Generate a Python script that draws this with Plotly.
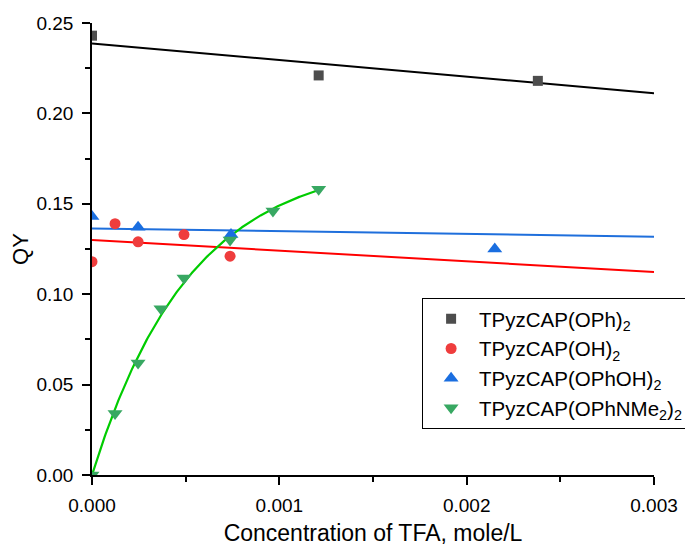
import numpy as np
import plotly.graph_objects as go

# ---- data ----
names = ["TPyzCAP(OPh)<sub>2</sub>", "TPyzCAP(OH)<sub>2</sub>",
         "TPyzCAP(OPhOH)<sub>2</sub>", "TPyzCAP(OPhNMe<sub>2</sub>)<sub>2</sub>"]

oph_x = [0.0, 0.00121, 0.00238]
oph_y = [0.243, 0.221, 0.218]

oh_x = [0.0, 0.000123, 0.000246, 0.000491, 0.000737]
oh_y = [0.118, 0.139, 0.129, 0.133, 0.121]

ophoh_x = [0.0, 0.000246, 0.000742, 0.00215]
ophoh_y = [0.143, 0.137, 0.133, 0.125]

nme_x = [0.0, 0.000123, 0.000246, 0.000368, 0.000491, 0.000737, 0.000966, 0.00121]
nme_y = [0.0, 0.034, 0.062, 0.092, 0.109, 0.130, 0.146, 0.158]

# linear fit parameters (intercept, slope) as drawn
oph_fit = [0.2387, -9.2]
oh_fit = [0.1300, -5.9]
ophoh_fit = [0.1364, -1.53]
# exponential fit y = A*(1-exp(-x/t))
nme_fit = [0.175, 0.000524]

x_range = [0.0, 0.003]
y_range = [0.0, 0.25]

fig = go.Figure()

lin_x = np.array(x_range)
for fit, col in [(oph_fit, "#000000"), (oh_fit, "#ff0000"), (ophoh_fit, "#1f6fdc")]:
    fig.add_trace(go.Scatter(x=lin_x, y=fit[0] + fit[1] * lin_x, mode="lines",
                             line=dict(color=col, width=2), showlegend=False,
                             hoverinfo="skip"))
cx = np.linspace(0, max(nme_x), 200)
fig.add_trace(go.Scatter(x=cx, y=nme_fit[0] * (1 - np.exp(-cx / nme_fit[1])), mode="lines",
                         line=dict(color="#00cc00", width=2.2), showlegend=False,
                         hoverinfo="skip"))

fig.add_trace(go.Scatter(x=oph_x, y=oph_y, mode="markers", name=names[0],
                         marker=dict(symbol="square", size=10, color="#4d4d4d")))
fig.add_trace(go.Scatter(x=oh_x, y=oh_y, mode="markers", name=names[1],
                         marker=dict(symbol="circle", size=11, color="#ef3d3d")))
fig.add_trace(go.Scatter(x=ophoh_x, y=ophoh_y, mode="markers", name=names[2],
                         marker=dict(symbol="triangle-up", size=13, color="#1a6ee0")))
fig.add_trace(go.Scatter(x=nme_x, y=nme_y, mode="markers", name=names[3],
                         marker=dict(symbol="triangle-down", size=13, color="#38a862")))

font = "Liberation Sans, Arial, sans-serif"
fig.update_layout(
    width=693, height=547,
    margin=dict(l=84, r=47, t=15, b=80),
    plot_bgcolor="white", paper_bgcolor="white",
    font=dict(family=font, color="black", size=19),
    legend=dict(x=0.587, y=0.392, xanchor="left", yanchor="top",
                bordercolor="black", borderwidth=1.2, bgcolor="white",
                font=dict(family=font, size=20.5, color="black"),
                tracegroupgap=0, itemwidth=46),
    xaxis=dict(range=x_range, showline=True, linecolor="black", linewidth=1.6,
               ticks="outside", ticklen=8, tickwidth=1.5, tickcolor="black",
               dtick=0.001, tickformat=".3f", showgrid=False, zeroline=False,
               automargin=False, ticklabelstandoff=4,
               minor=dict(dtick=0.0005, ticks="outside", ticklen=5, tickcolor="black",
                          tickwidth=1.5, showgrid=False),
               title=dict(text="Concentration of TFA, mole/L", font=dict(size=23), standoff=10),
               tickfont=dict(size=19)),
    yaxis=dict(range=y_range, showline=True, linecolor="black", linewidth=1.6,
               ticks="outside", ticklen=8, tickwidth=1.5, tickcolor="black",
               dtick=0.05, tickformat=".2f", showgrid=False, zeroline=False,
               automargin=False, ticklabelstandoff=5,
               minor=dict(dtick=0.025, ticks="outside", ticklen=5, tickcolor="black",
                          tickwidth=1.5, showgrid=False),
               title=dict(text="QY", font=dict(size=22), standoff=13),
               tickfont=dict(size=19)),
)

fig.write_html("out.html")
